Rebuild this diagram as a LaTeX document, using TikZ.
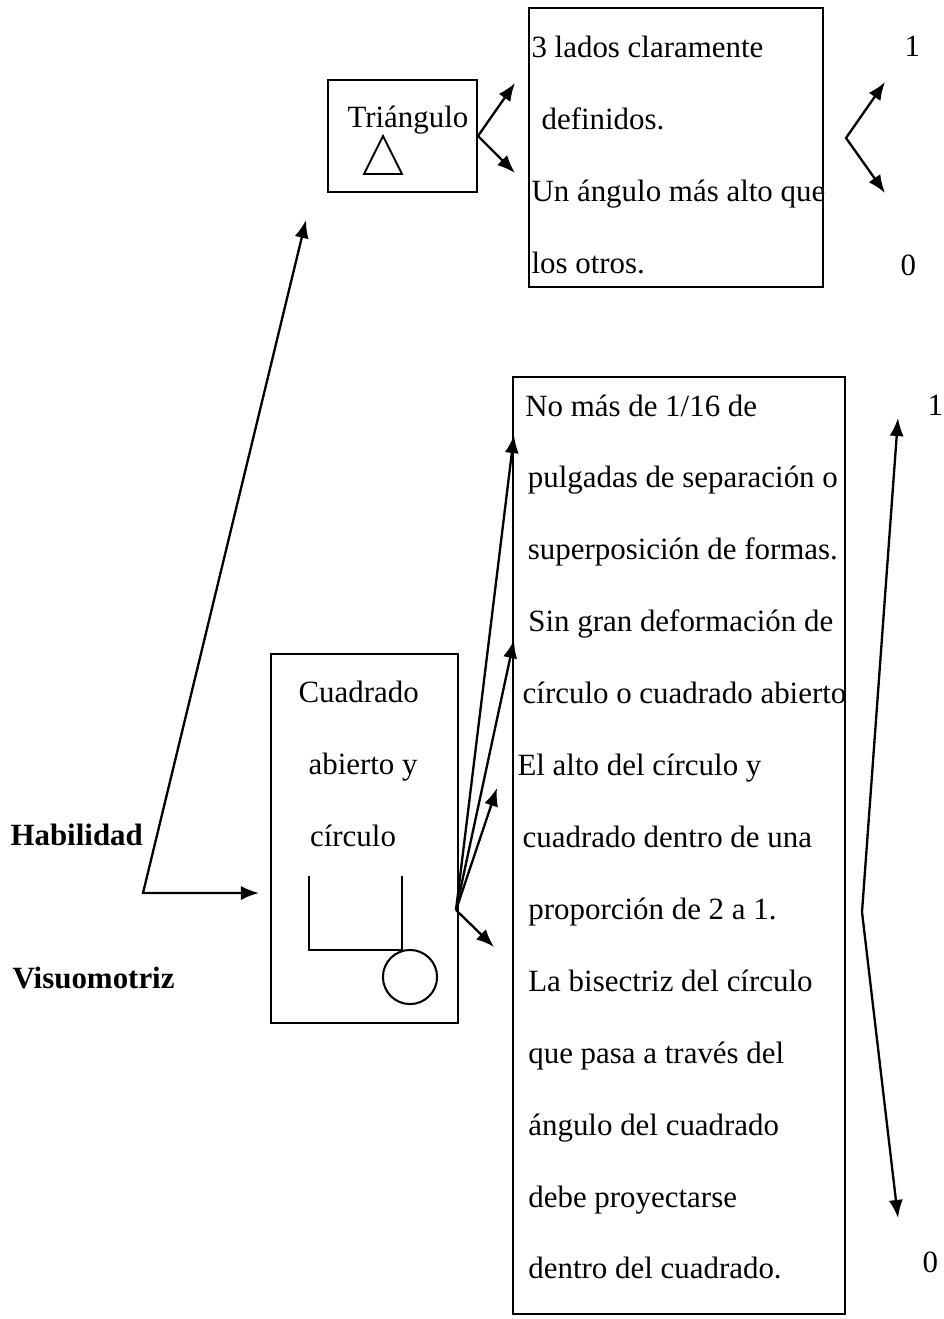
\documentclass[tikz,border=0pt]{standalone}
\usepackage{fontspec}
\setmainfont{Liberation Serif}
\usetikzlibrary{arrows.meta, positioning, calc}

\begin{document}
\begin{tikzpicture}[x=0.388pt, y=-0.388pt,
    box/.style={draw, line width=0.8pt, inner sep=0pt},
    txt/.style={font=\fontsize{12pt}{27.9pt}\selectfont, align=left,
                inner sep=0pt, anchor=north west},
    lbl/.style={font=\fontsize{12pt}{14pt}\selectfont, inner sep=0pt,
                anchor=base west},
    arr/.style={-{Latex[length=7pt,width=5.5pt]}, line width=0.9pt},
    darr/.style={{Latex[length=7pt,width=5.5pt]}-{Latex[length=7pt,width=5.5pt]},
                 line width=0.9pt}
  ]
    \useasboundingbox (0,0) rectangle (943,1319);

    % Triangle
    \node[box, minimum width=57.8pt, minimum height=43.5pt] (tri) at (402.5,136) {};
    \node[lbl] (trilbl) at (347,127) {Triángulo};
    \draw[line width=0.7pt] (383,136) -- (364,174) -- (402,174) -- cycle;

    \node[box, minimum width=114.1pt, minimum height=108.3pt] (lados) at (676,147.5) {};
    \node[txt] (ladostxt) at (531,36)
      {3 lados claramente\\\hspace*{3.9pt}definidos.\\Un ángulo más alto que\\los otros.};

    \coordinate (triup) at (515,83);
    \coordinate (tridn) at (515,173);
    \draw[arr] (tri.east) -- (triup);
    \draw[arr] (tri.east) -- (tridn);

    \node[lbl] (unoA) at (904,57) {1};
    \node[lbl] (ceroA) at (900,275) {0};
    \coordinate (b1up) at (885,82);
    \coordinate (b1v) at (846,138);
    \coordinate (b1dn) at (885,193);
    \draw[darr] (b1up) -- (b1v) -- (b1dn);

    % Habilidad visuomotriz
    \node[lbl, font=\fontsize{12pt}{14pt}\selectfont\bfseries] (hab) at (10,845) {Habilidad};
    \node[lbl, font=\fontsize{12pt}{14pt}\selectfont\bfseries] (visuo) at (12,988) {Visuomotriz};

    % Open square and circle
    \node[box, minimum width=72.6pt, minimum height=143.2pt] (cuad) at (364.5,838.5) {};
    \node[txt] (cuadtxt) at (298,681)
      {Cuadrado\\\hspace*{3.9pt}abierto y\\\hspace*{4.5pt}círculo};
    \draw[line width=0.8pt] (309,876) |- (402,950) -- (402,876);
    \draw[line width=0.8pt] (410,977) circle[radius=10.5pt];

    \coordinate (habtip) at (306,220);
    \coordinate (habcorner) at (143,893);
    \coordinate (habin) at (259,893);
    \draw[darr] (habtip) -- (habcorner) -- (habin);

    \node[box, minimum width=128.8pt, minimum height=363.6pt] (crit) at (679,845.5) {};
    \node[txt] (crittxt) at (517,394)
      {\hspace*{3pt}No más de 1/16 de\\
       \hspace*{4pt}pulgadas de separación o\\
       \hspace*{4pt}superposición de formas.\\
       \hspace*{4.2pt}Sin gran deformación de\\
       \hspace*{2pt}círculo o cuadrado abierto\\
       El alto del círculo y\\
       \hspace*{2pt}cuadrado dentro de una\\
       \hspace*{4.2pt}proporción de 2 a 1.\\
       \hspace*{4.2pt}La bisectriz del círculo\\
       \hspace*{4.2pt}que pasa a través del\\
       \hspace*{4.2pt}ángulo del cuadrado\\
       \hspace*{4.2pt}debe proyectarse\\
       \hspace*{4.2pt}dentro del cuadrado.};

    \coordinate (fan) at (456,910);
    \coordinate (fanA) at (514,435);
    \coordinate (fanB) at (514,640);
    \coordinate (fanC) at (497,788);
    \coordinate (fanD) at (494,947);
    \draw[arr] (fan) -- (fanA);
    \draw[arr] (fan) -- (fanB);
    \draw[arr] (fan) -- (fanC);
    \draw[arr] (fan) -- (fanD);

    \node[lbl] (unoB) at (927,415) {1};
    \node[lbl] (ceroB) at (922,1272) {0};
    \coordinate (b2up) at (898,418);
    \coordinate (b2v) at (862,912);
    \coordinate (b2dn) at (898,1218);
    \draw[darr] (b2up) -- (b2v) -- (b2dn);
  \end{tikzpicture}
\end{document}
